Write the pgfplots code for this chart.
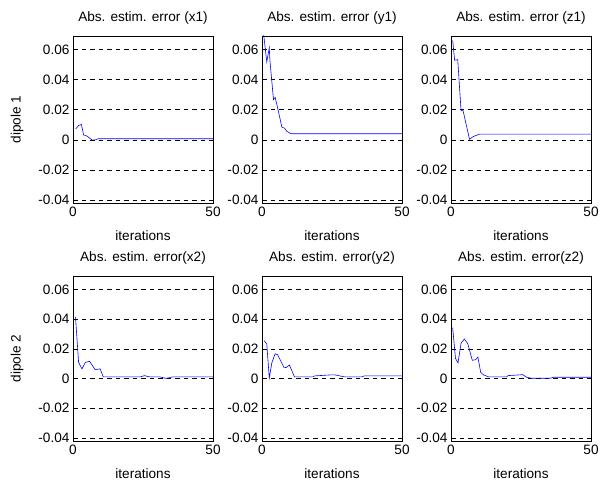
\documentclass[border=0pt]{standalone}
\usepackage{pgfplots}
\pgfplotsset{compat=1.18}
\usepackage{fontspec}
\setmainfont{Liberation Sans}
\newcommand{\fs}{\fontsize{13.6}{16}\selectfont}
\pgfplotsset{
  panel/.style={
    scale only axis, width=140pt, height=167pt,
    xmin=0, xmax=50, ymin=-0.042, ymax=0.069,
    xtick={0,50}, xticklabels={0,50},
    ytick={-0.04,-0.02,0,0.02,0.04,0.06},
    yticklabels={-0.04,-0.02,0,0.02,0.04,0.06},
    scaled y ticks=false, scaled x ticks=false,
    tick align=inside, major tick length=4pt,
    ymajorgrids,
    major grid style={black, line width=0.5pt, dash pattern=on 4.5pt off 4pt},
    axis line style={line width=0.8pt},
    every tick/.style={black, line width=0.6pt},
    ticklabel style={font=\fs},
    /pgf/number format/assume math mode=true,
    every axis title shift=0pt,
    title style={font=\fs, at={(axis description cs:0.5,1)}, anchor=center, yshift=18pt},
    xlabel style={font=\fs, at={(axis description cs:0.5,0)}, anchor=center, yshift=-32.5pt},
    ylabel style={font=\fs, at={(axis description cs:-0.40,0.5)}, anchor=center},
    xlabel={iterations},
    clip=true,
  },
  dat/.style={blue, line width=0.6pt, mark=none},
}
\begin{document}
\begin{tikzpicture}
\path[use as bounding box] (0,0) rectangle (601pt,482pt);
% row 1
\begin{axis}[panel, at={(73pt,279pt)}, anchor=south west, title={Abs. estim. error (x1)}, ylabel={dipole 1}]
\addplot[dat] coordinates {(1,0.0073)(2,0.0095)(3,0.0102)(3.8,0.0032)(5,0.0025)(6.7,0)(8,0)(9,0.0007)(50,0.0007)};
\end{axis}
\begin{axis}[panel, at={(262pt,279pt)}, anchor=south west, title={Abs. estim. error (y1)}]
\addplot[dat] coordinates {(0.6,0.070)(1.7,0.0518)(2.6,0.0611)(2.8,0.0533)(4.1,0.0267)(4.7,0.0282)(5.6,0.0211)(7.1,0.0084)(8,0.0078)(8.9,0.0056)(10.4,0.004)(50,0.004)};
\end{axis}
\begin{axis}[panel, at={(451pt,279pt)}, anchor=south west, title={Abs. estim. error (z1)}]
\addplot[dat] coordinates {(0.6,0.066)(1.3,0.0529)(2.4,0.0533)(3.6,0.0193)(4.2,0.02)(4.6,0.017)(6.6,0.0004)(8,0.0022)(10.2,0.0038)(50,0.0038)};
\end{axis}
% row 2
\begin{axis}[panel, height=165pt, at={(73pt,41pt)}, anchor=south west, title={Abs. estim. error(x2)}, ylabel={dipole 2}]
\addplot[dat] coordinates {(0.9,0.0413)(2,0.0109)(3.2,0.0065)(4.4,0.0109)(5.9,0.0116)(7.9,0.006)(9.7,0.0065)(10.8,0.0011)(24,0.0011)(25.6,0.002)(27,0.0012)(31,0.0011)(33.3,0.0001)(35.5,0.0011)(50,0.0011)};
\end{axis}
\begin{axis}[panel, height=165pt, at={(262pt,41pt)}, anchor=south west, title={Abs. estim. error(y2)}]
\addplot[dat] coordinates {(0.8,0.0254)(1.7,0.0234)(2.6,0.0004)(3.5,0.0105)(4.7,0.0167)(5.6,0.016)(7.8,0.0076)(8.6,0.0074)(9.8,0.0091)(11.6,0.0011)(18.2,0.0011)(18.8,0.0018)(24.8,0.0025)(26,0.0025)(29.6,0.0011)(35.6,0.0011)(36.5,0.0018)(50,0.0018)};
\end{axis}
\begin{axis}[panel, height=165pt, at={(451pt,41pt)}, anchor=south west, title={Abs. estim. error(z2)}]
\addplot[dat] coordinates {(0.6,0.0343)(1.6,0.0136)(2.5,0.0105)(3.6,0.0239)(4.8,0.0266)(6,0.0234)(7.6,0.0123)(8.8,0.0127)(9.6,0.0145)(10.6,0.0042)(11.6,0.0025)(13.5,0.0011)(19.8,0.0011)(20.4,0.002)(24.6,0.0025)(25.5,0.0027)(27,0.0009)(28.8,0.0002)(35.4,0.0002)(36.6,0.0009)(50,0.0009)};
\end{axis}
\end{tikzpicture}
\end{document}
